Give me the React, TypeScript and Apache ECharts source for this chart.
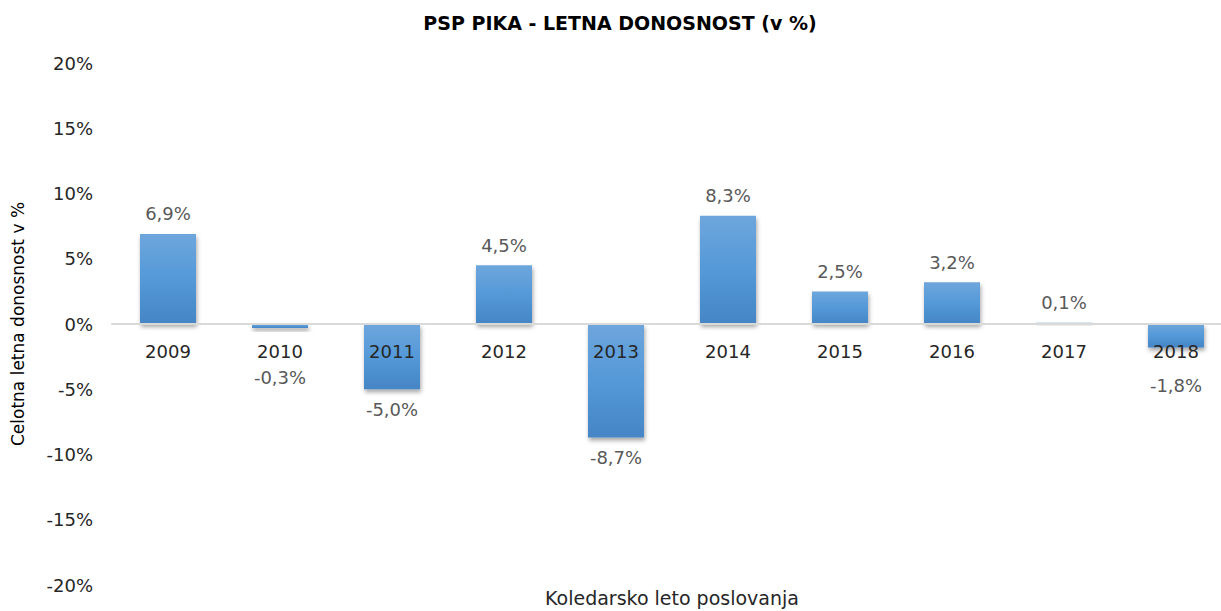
import React, { useEffect, useRef } from "react";
import * as echarts from "echarts";

const categories = ["2009", "2010", "2011", "2012", "2013", "2014", "2015", "2016", "2017", "2018"];
const returns = [6.9, -0.3, -5.0, 4.5, -8.7, 8.3, 2.5, 3.2, 0.1, -1.8];
const titleText = "PSP PIKA - LETNA DONOSNOST (v %)";
const yAxisName = "Celotna letna donosnost v %";
const xAxisName = "Koledarsko leto poslovanja";

const FONT = "DejaVu Sans";
const Y_MIN = -20;
const Y_MAX = 20;
// label distance overrides (px) for small negative bars whose labels sit below the year labels
const labelDistanceOverride: Record<string, number> = { "2010": 41, "2018": 29 };

export default function App() {
  const ref = useRef<HTMLDivElement>(null);
  useEffect(() => {
    if (!ref.current) return;
    const chart = echarts.init(ref.current, null, { renderer: "svg" });
    const barColor = new echarts.graphic.LinearGradient(0, 0, 0, 1, [
      { offset: 0, color: "#6ea6dc" },
      { offset: 0.5, color: "#5499d8" },
      { offset: 1, color: "#4585c6" },
    ]);
    const gridTop = 63;
    const gridBottom = 26;
    const plotH = 611 - gridTop - gridBottom;
    const zeroOffset = -(plotH * (0 - Y_MIN)) / (Y_MAX - Y_MIN);
    chart.setOption({
      animation: false,
      textStyle: { fontFamily: FONT },
      title: {
        text: titleText,
        left: 615,
        textAlign: "center",
        top: 8,
        textStyle: { fontFamily: FONT, fontSize: 19, fontWeight: "bold", color: "#000000" },
      },
      grid: { left: 112, right: -11, top: gridTop, bottom: gridBottom, containLabel: false, outerBoundsMode: "none" },
      xAxis: {
        type: "category",
        data: categories,
        z: 5,
        position: "bottom",
        offset: zeroOffset,
        axisLine: { onZero: false, lineStyle: { color: "#d9d9d9", width: 2 } },
        axisTick: { show: false },
        axisLabel: { color: "#262626", fontSize: 18, margin: 18, fontFamily: FONT },
      },
      yAxis: {
        type: "value",
        min: Y_MIN,
        max: Y_MAX,
        interval: 5,
        name: yAxisName,
        nameLocation: "middle",
        nameGap: 86,
        nameRotate: 90,
        nameTextStyle: { color: "#000000", fontSize: 17, fontFamily: FONT },
        axisLine: { show: false },
        axisTick: { show: false },
        splitLine: { show: false },
        axisLabel: {
          color: "#262626",
          fontSize: 18,
          margin: 19,
          fontFamily: FONT,
          formatter: (v: number) => `${v}%`,
        },
      },
      graphic: [
        {
          type: "text",
          x: 672,
          y: 598,
          style: {
            text: xAxisName,
            fill: "#262626",
            fontSize: 19,
            fontFamily: FONT,
            textAlign: "center",
            textVerticalAlign: "middle",
          },
        },
      ],
      series: [
        {
          type: "bar",
          barWidth: "50%",
          data: returns.map((v, i) => ({
            value: v,
            label: {
              position: v < 0 ? "bottom" : "top",
              distance: labelDistanceOverride[categories[i]] ?? 11,
            },
          })),
          itemStyle: {
            color: barColor,
            shadowColor: "rgba(0,0,0,0.35)",
            shadowBlur: 4,
            shadowOffsetX: 1,
            shadowOffsetY: 3,
          },
          label: {
            show: true,
            color: "#595959",
            fontSize: 18,
            fontFamily: FONT,
            formatter: (p: any) => `${Number(p.value).toFixed(1).replace(".", ",")}%`,
          },
        },
      ],
    });
    return () => chart.dispose();
  }, []);
  return <div ref={ref} style={{ width: 1221, height: 611, position: "absolute", left: 0, top: 0 }} />;
}
